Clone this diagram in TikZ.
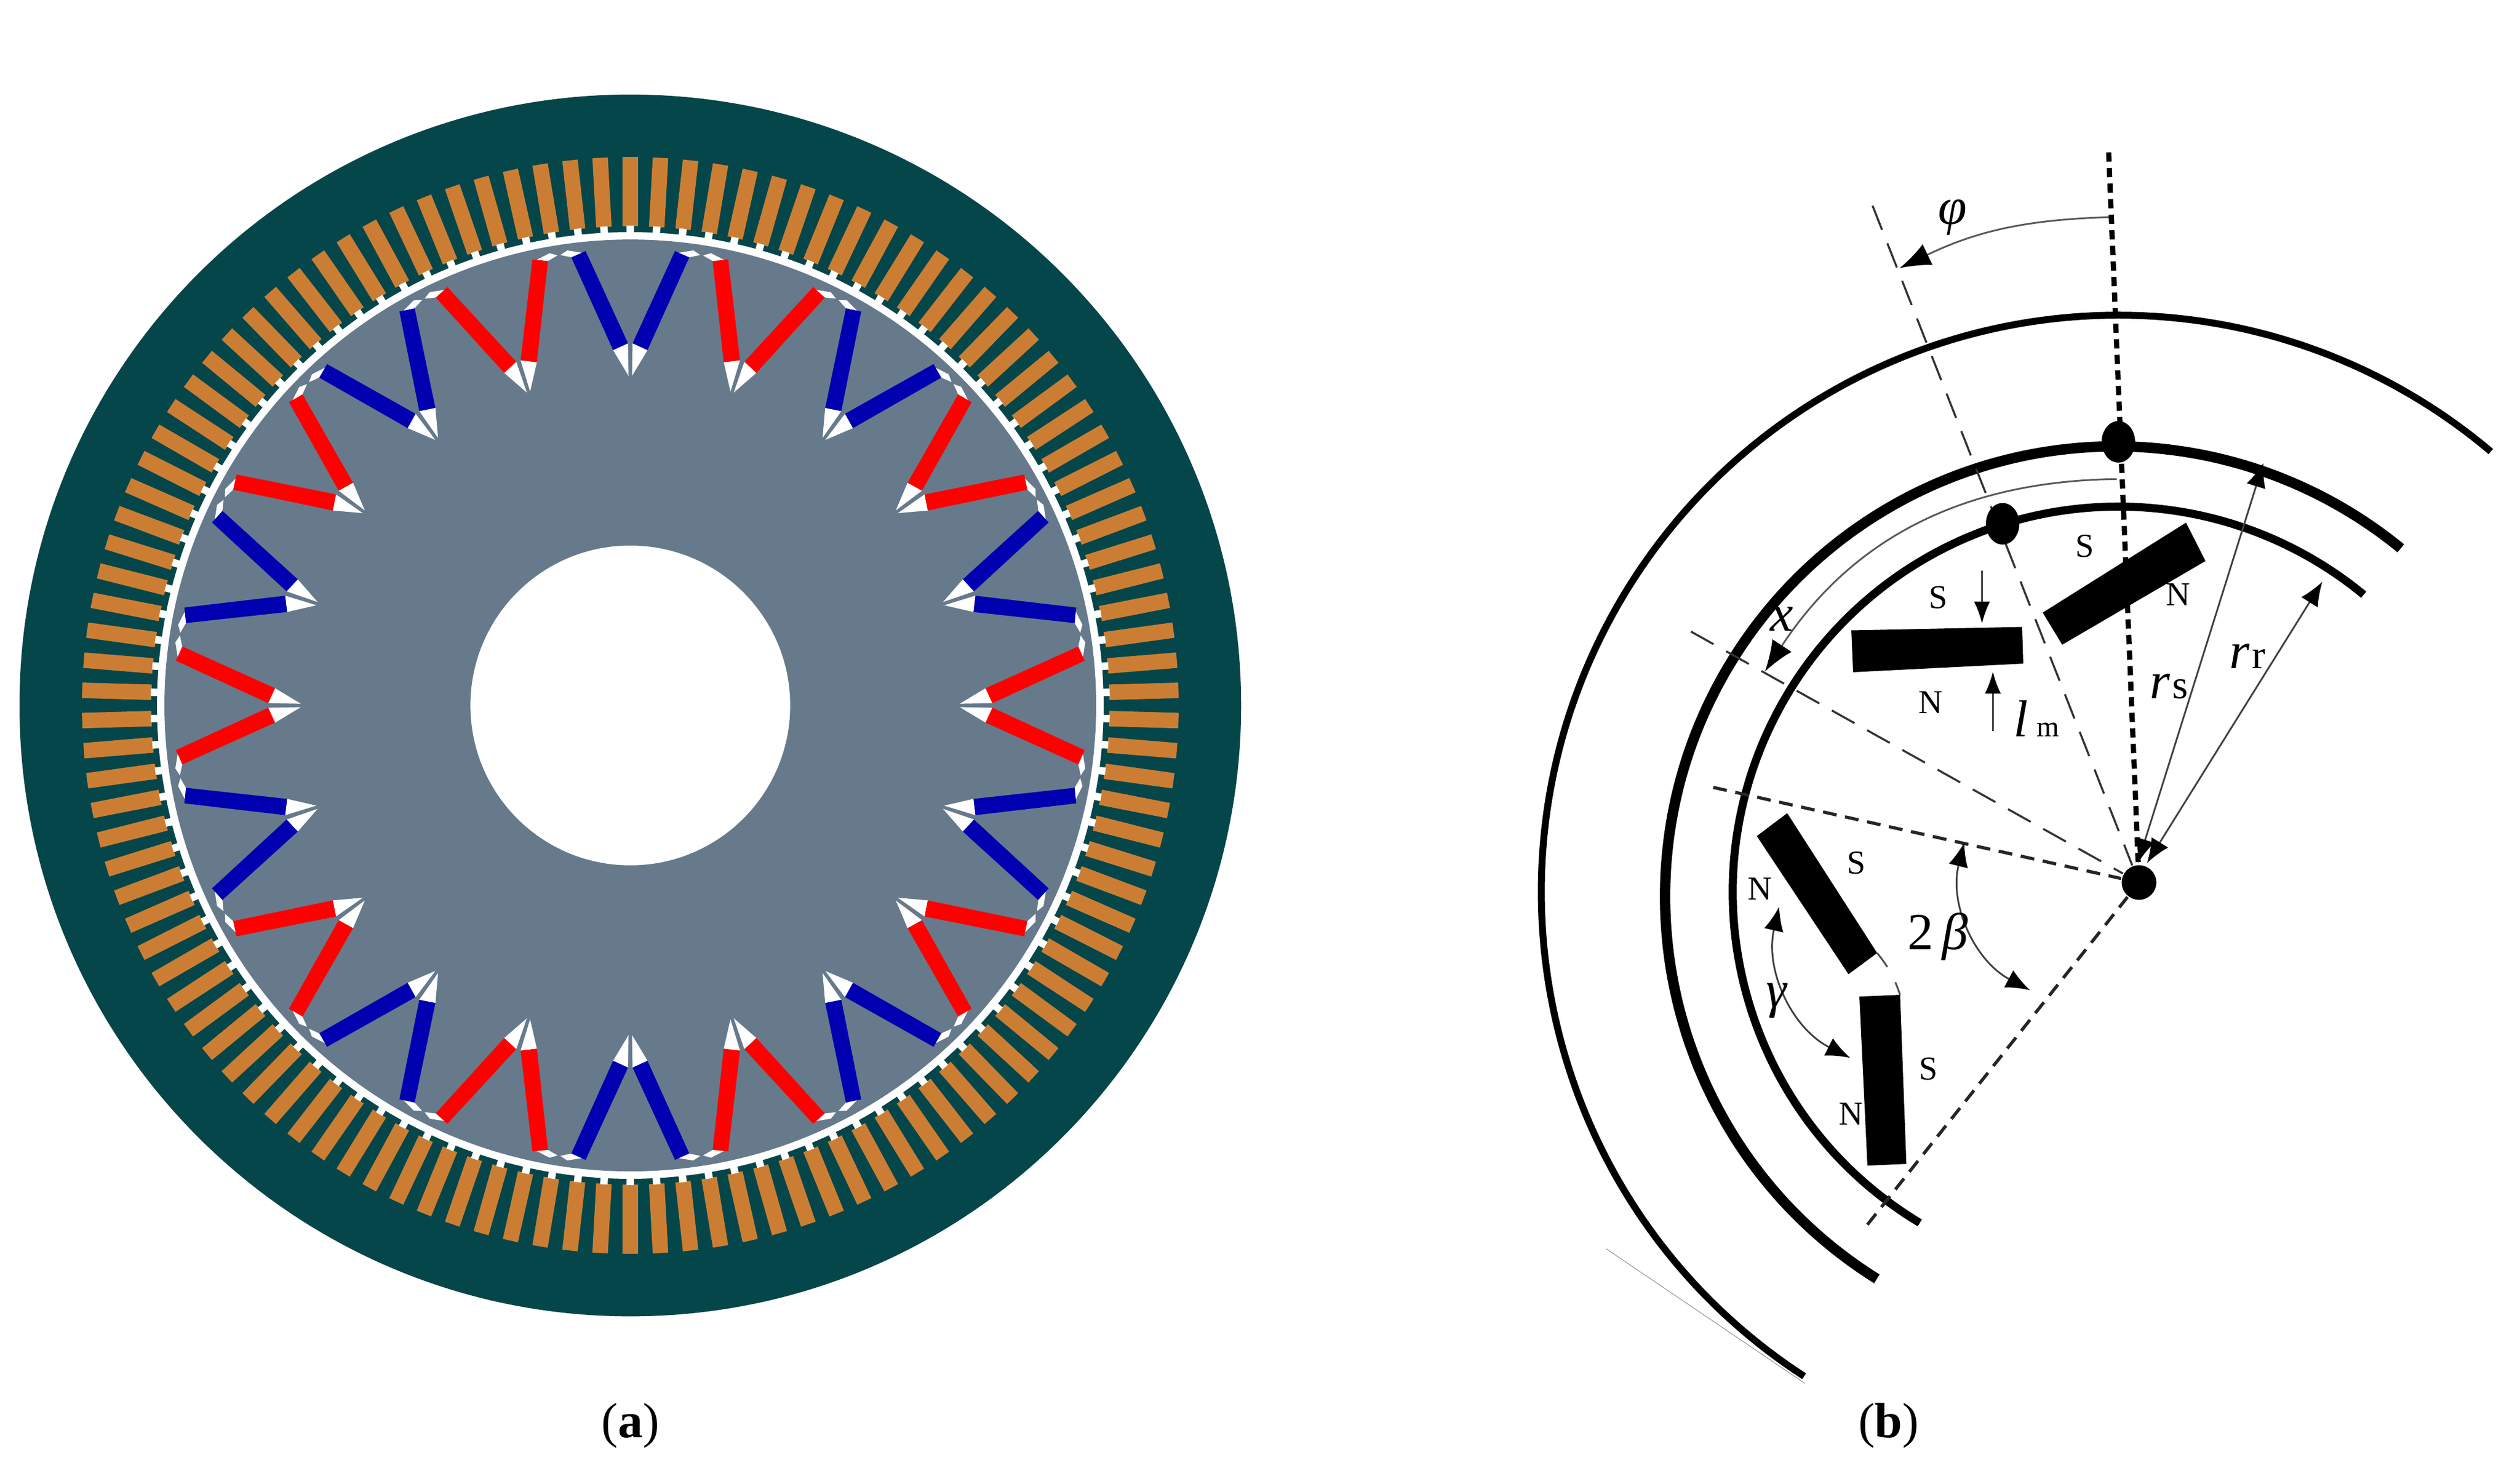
\documentclass[tikz,border=0pt]{standalone}
\usepackage{fontspec}
\setmainfont{Liberation Serif}
\usetikzlibrary{arrows.meta,shapes.geometric}

\definecolor{yokecol}{HTML}{05464A}
\definecolor{slotcol}{HTML}{CB7E33}
\definecolor{rotorcol}{HTML}{667A8C}
\definecolor{bluemag}{HTML}{0000B0}
\definecolor{redmag}{HTML}{FF0000}

\tikzset{
  pole/.style={font=\fontsize{5.8}{6}\selectfont},
  symbol/.style={font=\fontsize{9}{9}\selectfont\itshape},
  caption/.style={font=\fontsize{8.6}{10}\selectfont},
  magnet/.style={fill=black},
  thinarrow/.style={draw=black!75,line width=0.3pt,{Latex[black,length=4.2pt,width=3.4pt]}-{Latex[black,length=4.2pt,width=3.4pt]}},
  onearrow/.style={draw=black!75,line width=0.3pt,-{Latex[black,length=3.8pt,width=2.8pt]}},
  bigarrow/.style={draw=black!65,line width=0.3pt,-{Latex[black,length=5.4pt,width=4pt]}},
  longdash/.style={draw=black!80,line width=0.35pt,dash pattern=on 4.5pt off 2.5pt},
  shortdash/.style={draw=black!85,line width=0.55pt,dash pattern=on 2.4pt off 1.5pt},
  thickdot/.style={draw=black,line width=0.9pt,dash pattern=on 1.6pt off 1.1pt},
  cropline/.style={draw=black!45,line width=0.1pt}
}

% one half of a V shaped magnet pair, local y axis is radial
\newcommand{\halfpole}[1]{
  \fill[white] (3,575) -- (30,620) -- (4,632) -- cycle;
  \fill[#1] (4,632) -- (30,620) -- (103,782) -- (78,793) -- cycle;
  \fill[white] (85,790) -- (103,782) -- (122,786) -- (110,794) -- cycle;
}

\begin{document}
\begin{tikzpicture}[x=0.09932pt,y=0.09932pt]
  \useasboundingbox (0,0) rectangle (4397.9,-2556.4);

  \coordinate (motor) at (1100,-1231);

  % stator
  \fill[yokecol] (motor) circle[radius=1066];
  \begin{scope}[shift={(motor)}]
    \foreach \k in {0,...,113} {
      \begin{scope}[rotate=90+\k*3.15789]
        \fill[slotcol] (836,-13.5) rectangle (957,13.5);
        \fill[white] (815,-6.5) rectangle (837,6.5);
      \end{scope}
    }
  \end{scope}
  \fill[white] (motor) circle[radius=826];

  % rotor
  \fill[rotorcol] (motor) circle[radius=813];
  \begin{scope}[shift={(motor)}]
    \foreach \k in {0,...,19} {
      \pgfmathsetmacro{\poleangle}{\k*18}
      \pgfmathtruncatemacro{\polekind}{mod(\k,2)}
      \ifnum\polekind=0 \def\polecol{bluemag}\else\def\polecol{redmag}\fi
      \begin{scope}[rotate=\poleangle]
        \halfpole{\polecol}
        \begin{scope}[xscale=-1]
          \halfpole{\polecol}
        \end{scope}
      \end{scope}
    }
  \end{scope}
  \fill[white] (motor) circle[radius=279];

  \node[caption] (capa) at (1100,-2488) {(\textbf{a})};

  % section view
  \coordinate (centre) at (3697,-1557);
  \coordinate (centremid) at (3692,-1565);
  \node[circle,fill=black,minimum size=6pt,inner sep=0pt] (hub) at (3733,-1540) {};

  \draw[line width=1.2pt] (centre) ++(237:1007) arc[start angle=237,end angle=49.8,radius=1007];
  \draw[line width=1.8pt] (centremid) ++(238:786) arc[start angle=238,end angle=50.7,radius=786];
  \draw[line width=1.4pt] (centre) ++(239:673) arc[start angle=239,end angle=50.5,radius=673];

  \coordinate (dottop) at (3680,-266);
  \coordinate (dashone) at (3268,-359);
  \coordinate (dashtwo) at (2951,-1102);
  \coordinate (dashthree) at (2990,-1374);
  \coordinate (dashfour) at (3259,-2137);

  \draw[thickdot] (dottop) -- (hub);
  \draw[longdash] (dashone) -- (hub);
  \draw[longdash] (dashtwo) -- (hub);
  \draw[shortdash] (dashthree) -- (hub);
  \draw[shortdash] (dashfour) -- (hub);

  \coordinate (cropa) at (2803,-2179);
  \coordinate (cropb) at (3150,-2414);
  \draw[cropline] (cropa) -- (cropb);

  \begin{scope}[every node/.style={ellipse,fill=black,inner sep=0pt,minimum width=5.8pt,minimum height=7.2pt}]
    \node (dotstator) at (3697,-771) {};
    \node (dotrotor)  at (3495,-914) {};
  \end{scope}

  % magnets
  \fill[magnet] (3231,-1100) -- (3529,-1094) -- (3531,-1158) -- (3234,-1173) -- cycle;
  \fill[magnet] (3565,-1069) -- (3815,-912) -- (3849,-979) -- (3599,-1125) -- cycle;
  \fill[magnet] (3066,-1459) -- (3119,-1419) -- (3276,-1663) -- (3226,-1700) -- cycle;
  \fill[magnet] (3245,-1739) -- (3316,-1736) -- (3327,-2031) -- (3259,-2034) -- cycle;

  \coordinate (gapa) at (3276,-1663);
  \coordinate (gapb) at (3316,-1736);
  \draw[draw=black!70,line width=0.3pt,dashed] (gapa) to[bend left=10] (gapb);

  % angles and lengths
  \coordinate (phia) at (3680,-379);
  \coordinate (phib) at (3315,-468);
  \coordinate (xa) at (3694,-836);
  \coordinate (xb) at (3080,-1172);
  \coordinate (gama) at (3105,-1582);
  \coordinate (gamb) at (3229,-1846);
  \coordinate (betaa) at (3428,-1470);
  \coordinate (betab) at (3543,-1728);
  \coordinate (rsa) at (3731,-1506);
  \coordinate (rsb) at (3950,-808);
  \coordinate (rra) at (3747,-1506);
  \coordinate (rrb) at (4053,-1015);
  \coordinate (lma) at (3459,-996);
  \coordinate (lmb) at (3459,-1088);
  \coordinate (lmc) at (3478,-1276);
  \coordinate (lmd) at (3478,-1172);

  \draw[bigarrow] (phia) to[bend right=12] (phib);
  \draw[bigarrow] (xa) to[bend right=28] (xb);
  \draw[thinarrow] (gama) to[bend right=38] (gamb);
  \draw[thinarrow] (betaa) to[bend right=38] (betab);
  \draw[thinarrow] (rsa) -- (rsb);
  \draw[thinarrow] (rra) -- (rrb);
  \draw[onearrow] (lma) -- (lmb);
  \draw[onearrow] (lmc) -- (lmd);

  \begin{scope}[every node/.style={pole}]
    \node (sa) at (3638,-953) {S};
    \node (na) at (3801,-1038) {N};
    \node (sb) at (3383,-1043) {S};
    \node (nb) at (3369,-1226) {N};
    \node (sc) at (3240,-1506) {S};
    \node (nc) at (3071,-1551) {N};
    \node (sd) at (3366,-1865) {S};
    \node (nd) at (3230,-1944) {N};
  \end{scope}

  \begin{scope}[every node/.style={symbol}]
    \node (phi) at (3408,-379) {φ};
    \node (xlab) at (3110,-1080) {x};
    \node (lm) at (3554,-1254) {l\,{\fontsize{5}{6}\selectfont\upshape m}};
    \node (rs) at (3785,-1198) {r\kern0.4pt{\fontsize{7}{8}\selectfont\upshape s}};
    \node (rr) at (3922,-1145) {r\kern0.4pt{\fontsize{7}{8}\selectfont\upshape r}};
    \node (gam) at (3100,-1746) {γ};
    \node (twob) at (3382,-1635) {{\upshape 2}\,β};
  \end{scope}

  \node[caption] (capb) at (3296,-2488) {(\textbf{b})};
\end{tikzpicture}
\end{document}
